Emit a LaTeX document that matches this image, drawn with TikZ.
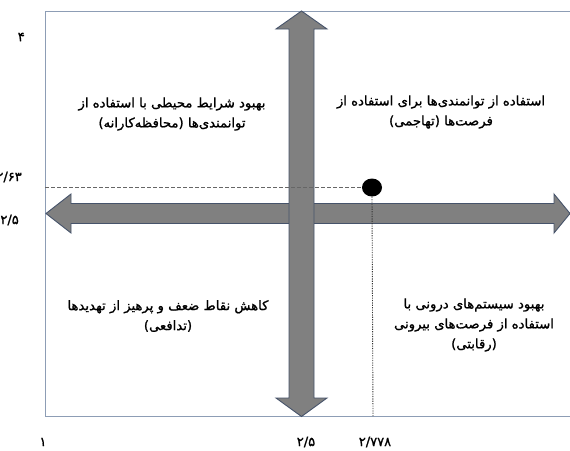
\documentclass[tikz,border=0pt]{standalone}
\usepackage{fontspec}
\usetikzlibrary{shapes.geometric}
\TeXXeTstate=1
\newfontfamily\arabicfont[Script=Arabic, FakeBold=1.2]{DejaVu Sans}
\definecolor{framec}{HTML}{8D9DB5}
\definecolor{arrowfill}{HTML}{808080}
\definecolor{arrowline}{HTML}{46536A}
\tikzset{
  bigarrow/.style={fill=arrowfill, draw=arrowline, line width=0.9pt, line join=miter},
  framebox/.style={draw=framec, line width=1pt},
  quad/.style={font=\arabicfont\fontsize{13.2}{20}\selectfont, align=center, inner sep=0pt},
  axlabel/.style={font=\arabicfont\fontsize{13}{14}\selectfont, inner sep=0pt},
  guide/.style={draw=black!60, dash pattern=on 3.5pt off 2.5pt, line width=0.8pt},
  guidev/.style={draw=black!80, dash pattern=on 1.2pt off 1.2pt, line width=0.9pt}
}
\begin{document}
\begin{tikzpicture}[x=1pt,y=-1pt]
\useasboundingbox (0,0) rectangle (570,450);
% frame corners
\coordinate (ftr) at (580,11);
\coordinate (ftl) at (45,11);
\coordinate (fbl) at (45,416);
\coordinate (fbr) at (580,416);
\draw[framebox] (ftr) -- (ftl) -- (fbl) -- (fbr);
% horizontal double arrow
\draw[bigarrow] (46,213.5) -- (71,194) -- (71,203.5) -- (554,203.5) -- (554,194) -- (570,213.5)
  -- (554,233) -- (554,223.5) -- (71,223.5) -- (71,233) -- cycle;
% vertical double arrow
\draw[bigarrow] (301.5,11) -- (327,29) -- (314,29) -- (314,398) -- (327,398) -- (301.5,416.5)
  -- (276,398) -- (289,398) -- (289,29) -- (276,29) -- cycle;
% point and guides
\node[ellipse, fill=black, minimum width=20pt, minimum height=18pt, inner sep=0pt] (pt) at (372,187.5) {};
\coordinate (gl) at (45,187.5);
\coordinate (gb) at (373,416);
\draw[guide] (gl) -- (pt.west);
\draw[guidev] (pt.south) -- (gb);
% quadrant texts
\node[quad] (qtl) at (172,114) {\beginR بهبود شرایط محیطی با استفاده از\endR\\\beginR توانمندی‌ها (محافظه‌کارانه)\endR};
\node[quad] (qtr) at (441,112) {\beginR استفاده از توانمندی‌ها برای استفاده از\endR\\\beginR فرصت‌ها (تهاجمی)\endR};
\node[quad] (qbl) at (168,316) {\beginR کاهش نقاط ضعف و پرهیز از تهدیدها\endR\\\beginR (تدافعی)\endR};
\node[quad] (qbr) at (474,325) {\beginR بهبود سیستم‌های درونی با\endR\\\beginR استفاده از فرصت‌های بیرونی\endR\\\beginR (رقابتی)\endR};
% axis labels
\node[axlabel, anchor=east] (y4) at (25,37) {۴};
\node[axlabel, anchor=east] (y263) at (22,177) {۲/۶۳};
\node[axlabel, anchor=east] (y25) at (19,220) {۲/۵};
\node[axlabel] (x1) at (43,442) {۱};
\node[axlabel] (x25) at (306,442) {۲/۵};
\node[axlabel] (x2778) at (375,442) {۲/۷۷۸};
\end{tikzpicture}
\end{document}
